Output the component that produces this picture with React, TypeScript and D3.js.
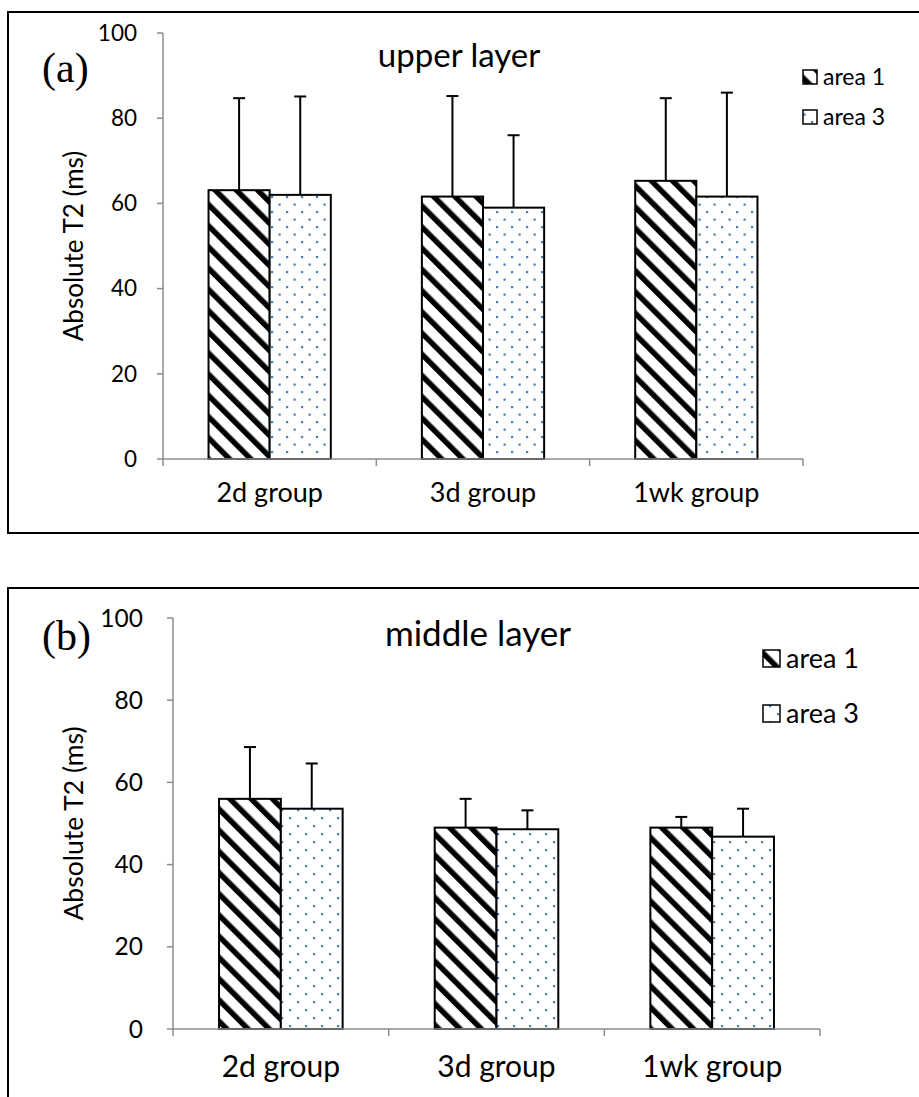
import React from "react";
import * as d3 from "d3";

// Groups and series
const groups = ["2d group", "3d group", "1wk group"];
const seriesNames = ["area 1", "area 3"];
const yTicks = [0, 20, 40, 60, 80, 100];

// Upper layer: means and upper error-bar tops (ms)
const upperArea1 = [63.1, 61.6, 65.3];
const upperArea3 = [62.0, 59.0, 61.6];
const upperArea1Err = [84.7, 85.2, 84.7];
const upperArea3Err = [85.1, 76.0, 86.0];

// Middle layer: means and upper error-bar tops (ms)
const middleArea1 = [56.0, 49.0, 49.0];
const middleArea3 = [53.6, 48.6, 46.8];
const middleArea1Err = [68.6, 56.0, 51.6];
const middleArea3Err = [64.6, 53.2, 53.6];

const FONT = "Lato, 'Open Sans', sans-serif";
const AXIS_GREY = "#8c8c8c";
const DOT_BLUE = "#4a7ebb";

type PanelProps = {
  id: string;
  tag: string;
  title: string;
  a1: number[];
  a3: number[];
  e1: number[];
  e3: number[];
  box: { x: number; y: number; h: number };
  plot: { x0: number; x1: number; yZero: number; yTop: number };
  tickFont: number;
  tickGap: number;
  catFont: number;
  catOffset: number;
  titleX: number;
  titleY: number;
  titleFont: number;
  tagY: number;
  legend: { x: number; y: number; gap: number; sw: number; font: number };
  axisTitleFont: number;
  dotStep: number;
};

function Panel(p: PanelProps) {
  const x = d3.scaleBand<string>().domain(groups).range([p.plot.x0, p.plot.x1]).paddingInner(0).paddingOuter(0);
  const inner = d3.scaleBand<string>().domain(seriesNames).range([0, x.bandwidth()]).paddingInner(0).paddingOuter(0.745);
  const y = d3.scaleLinear().domain([0, 100]).range([p.plot.yZero, p.plot.yTop]);
  const stripeId = `stripe-${p.id}`;
  const dotId = `dots-${p.id}`;
  const capHalf = 6;
  const series = [
    { name: seriesNames[0], vals: p.a1, errs: p.e1, fill: `url(#${stripeId})` },
    { name: seriesNames[1], vals: p.a3, errs: p.e3, fill: `url(#${dotId})` },
  ];
  const ds = p.dotStep;
  return (
    <g>
      <defs>
        <pattern id={stripeId} patternUnits="userSpaceOnUse" width={15} height={15} patternTransform="rotate(-45)">
          <rect width={15} height={15} fill="#fff" />
          <rect x={0} y={0} width={5.5} height={15} fill="#000" />
        </pattern>
        <pattern id={dotId} patternUnits="userSpaceOnUse" width={ds * 2} height={ds * 2}>
          <rect width={ds * 2} height={ds * 2} fill="#fff" />
          <rect x={1} y={1} width={2.2} height={2.2} fill={DOT_BLUE} />
          <rect x={ds + 1} y={ds + 1} width={2.2} height={2.2} fill={DOT_BLUE} />
        </pattern>
      </defs>
      {/* panel frame */}
      <rect x={p.box.x} y={p.box.y} width={940} height={p.box.h} fill="none" stroke="#000" strokeWidth={2} />
      {/* y axis */}
      <line x1={p.plot.x0} x2={p.plot.x0} y1={y(0)} y2={y(100)} stroke={AXIS_GREY} strokeWidth={1.5} />
      {yTicks.map((t) => (
        <g key={t}>
          <line x1={p.plot.x0 - 6} x2={p.plot.x0} y1={y(t)} y2={y(t)} stroke={AXIS_GREY} strokeWidth={1.5} />
          <text x={p.plot.x0 - p.tickGap} y={y(t)} dy="0.35em" textAnchor="end" fontFamily={FONT} fontSize={p.tickFont} fill="#000">
            {t}
          </text>
        </g>
      ))}
      <text
        transform={`translate(${p.box.x + 75},${(y(0) + y(100)) / 2}) rotate(-90)`}
        textAnchor="middle"
        fontFamily={FONT}
        fontSize={p.axisTitleFont}
        fill="#000"
      >
        Absolute T2 (ms)
      </text>
      {/* bars with upper error bars */}
      {series.map((s) =>
        groups.map((g, i) => {
          const bx = (x(g) as number) + (inner(s.name) as number);
          const bw = inner.bandwidth();
          return (
            <g key={s.name + g}>
              <line x1={bx + bw / 2} x2={bx + bw / 2} y1={y(s.vals[i])} y2={y(s.errs[i])} stroke="#000" strokeWidth={2} />
              <line x1={bx + bw / 2 - capHalf} x2={bx + bw / 2 + capHalf} y1={y(s.errs[i])} y2={y(s.errs[i])} stroke="#000" strokeWidth={2} />
              <rect x={bx} y={y(s.vals[i])} width={bw} height={y(0) - y(s.vals[i])} fill={s.fill} stroke="#000" strokeWidth={2} />
            </g>
          );
        })
      )}
      {/* x axis */}
      <line x1={p.plot.x0} x2={p.plot.x1} y1={y(0)} y2={y(0)} stroke={AXIS_GREY} strokeWidth={1.5} />
      {[...groups.map((g) => x(g) as number), p.plot.x1].map((tx, i) => (
        <line key={i} x1={tx} x2={tx} y1={y(0)} y2={y(0) + 7} stroke={AXIS_GREY} strokeWidth={1.5} />
      ))}
      {groups.map((g) => (
        <text key={g} x={(x(g) as number) + x.bandwidth() / 2} y={y(0) + p.catOffset} textAnchor="middle" fontFamily={FONT} fontSize={p.catFont} fill="#000">
          {g}
        </text>
      ))}
      {/* title and panel tag */}
      <text x={p.titleX} y={p.titleY} textAnchor="middle" fontFamily={FONT} fontSize={p.titleFont} fill="#000">
        {p.title}
      </text>
      <text x={p.box.x + 34} y={p.tagY} fontFamily="'Liberation Serif', 'Times New Roman', serif" fontSize={42} fill="#000">
        {p.tag}
      </text>
      {/* legend */}
      {series.map((s, i) => (
        <g key={s.name}>
          <rect
            x={p.legend.x}
            y={p.legend.y + i * p.legend.gap}
            width={p.legend.sw}
            height={p.legend.sw}
            fill={s.fill}
            stroke="#000"
            strokeWidth={1.5}
          />
          <text
            x={p.legend.x + p.legend.sw + 6}
            y={p.legend.y + i * p.legend.gap + p.legend.sw / 2}
            dy="0.35em"
            fontFamily={FONT}
            fontSize={p.legend.font}
            fill="#000"
          >
            {s.name}
          </text>
        </g>
      ))}
    </g>
  );
}

export default function App() {
  return (
    <svg width={919} height={1097} style={{ position: "absolute", left: 0, top: 0, background: "#fff" }}>
      <rect width={919} height={1097} fill="#fff" />
      <Panel
        id="upper"
        tag="(a)"
        title="upper layer"
        a1={upperArea1}
        a3={upperArea3}
        e1={upperArea1Err}
        e3={upperArea3Err}
        box={{ x: 8, y: 12, h: 521 }}
        plot={{ x0: 163, x1: 803, yZero: 459, yTop: 33 }}
        tickFont={22.5}
        tickGap={26}
        catFont={27}
        catOffset={43}
        titleX={459}
        titleY={67}
        titleFont={33}
        tagY={82}
        legend={{ x: 803, y: 70, gap: 40, sw: 14, font: 23 }}
        axisTitleFont={26}
        dotStep={7.5}
      />
      <Panel
        id="middle"
        tag="(b)"
        title="middle layer"
        a1={middleArea1}
        a3={middleArea3}
        e1={middleArea1Err}
        e3={middleArea3Err}
        box={{ x: 8, y: 588, h: 600 }}
        plot={{ x0: 173, x1: 820, yZero: 1029, yTop: 618 }}
        tickFont={24.5}
        tickGap={30}
        catFont={30}
        catOffset={48}
        titleX={478}
        titleY={646}
        titleFont={35}
        tagY={650}
        legend={{ x: 763, y: 650, gap: 55, sw: 17, font: 27 }}
        axisTitleFont={26.5}
        dotStep={8}
      />
    </svg>
  );
}
